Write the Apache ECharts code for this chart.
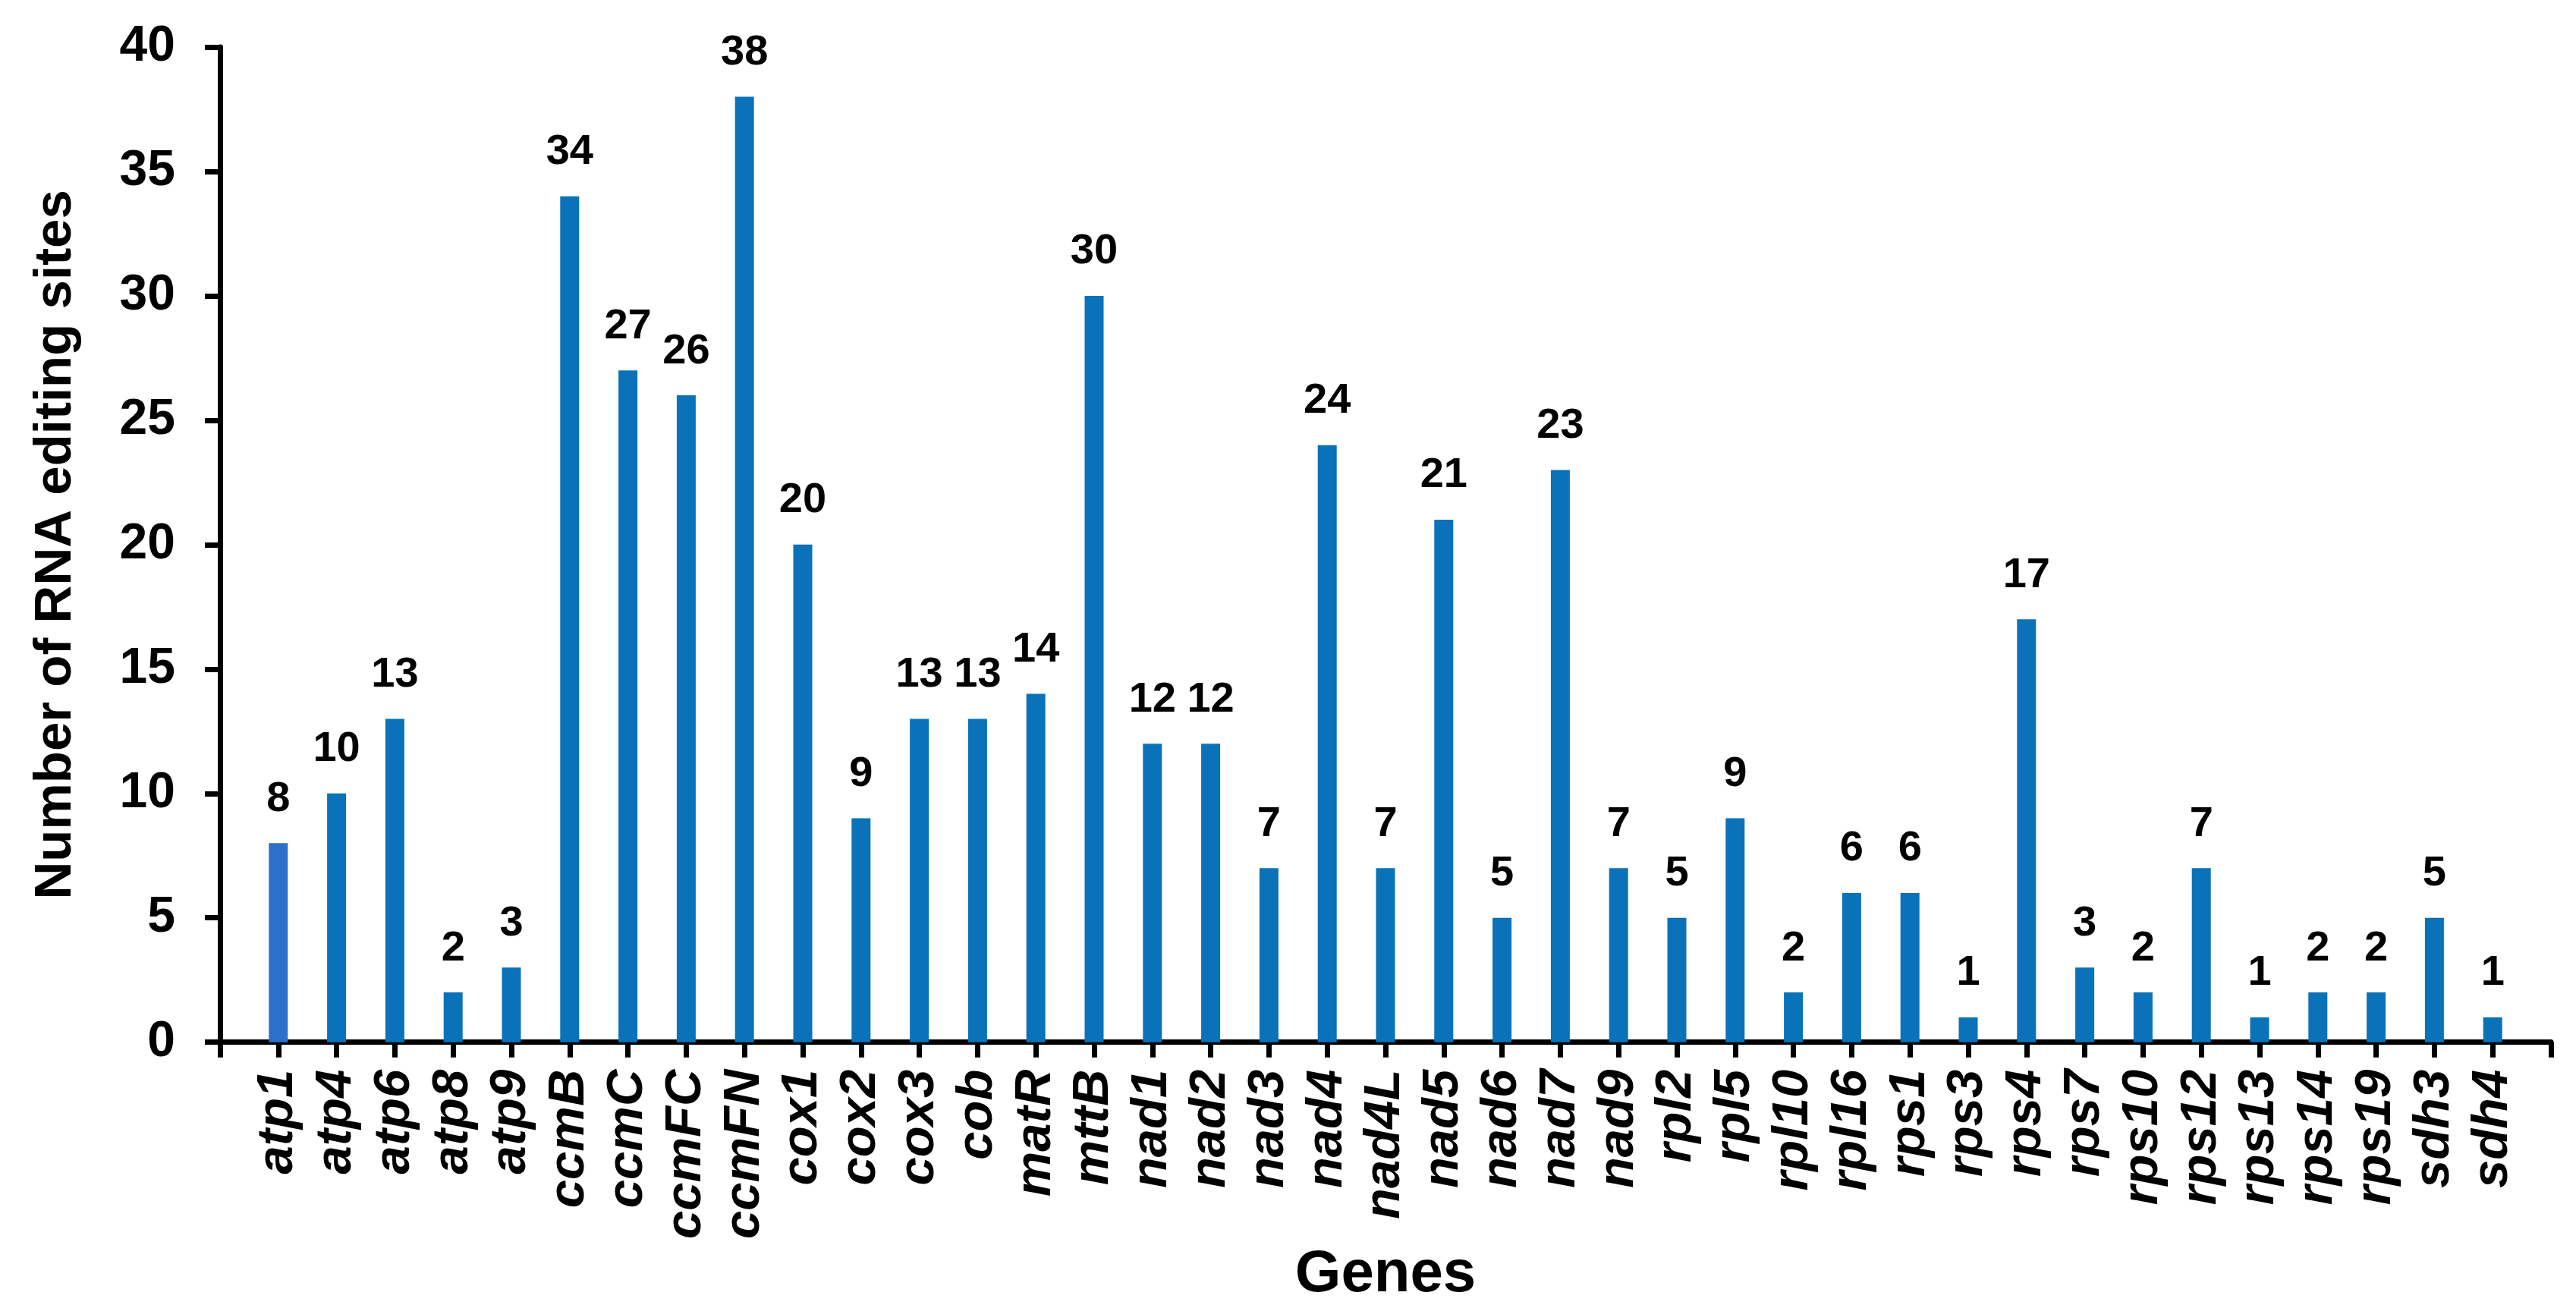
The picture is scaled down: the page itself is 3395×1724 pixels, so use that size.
<!DOCTYPE html>
<html>
<head>
<meta charset="utf-8">
<script src="https://cdn.jsdelivr.net/npm/echarts@6/dist/echarts.min.js"></script>
<style>
html,body{margin:0;padding:0;background:#fff;}
#chart{width:3395px;height:1724px;}
</style>
</head>
<body>
<div id="chart"></div>
<script>
const genes = ['atp1','atp4','atp6','atp8','atp9','ccmB','ccmC','ccmFC','ccmFN','cox1','cox2','cox3','cob','matR','mttB','nad1','nad2','nad3','nad4','nad4L','nad5','nad6','nad7','nad9','rpl2','rpl5','rpl10','rpl16','rps1','rps3','rps4','rps7','rps10','rps12','rps13','rps14','rps19','sdh3','sdh4'];
const editingSites = [8,10,13,2,3,34,27,26,38,20,9,13,13,14,30,12,12,7,24,7,21,5,23,7,5,9,2,6,6,1,17,3,2,7,1,2,2,5,1];
const yTicks = [0,5,10,15,20,25,30,35,40];

const FONT = "'Liberation Sans', Arial, sans-serif";
const categories = [''].concat(genes, ['']);
const barData = ['-'].concat(editingSites.map((v, i) => ({
  value: v,
  itemStyle: { color: i === 0 ? '#2C70CC' : '#0A72B9' }
})), ['-']);

const chart = echarts.init(document.getElementById('chart'));
chart.setOption({
  animation: false,
  backgroundColor: '#ffffff',
  grid: { left: 290, right: 33, top: 62, bottom: 343, containLabel: false },
  xAxis: {
    type: 'category',
    data: categories,
    boundaryGap: false,
    name: 'Genes',
    nameLocation: 'middle',
    nameGap: 246,
    nameTextStyle: { fontFamily: FONT, fontWeight: 'bold', fontSize: 78, color: '#000' },
    axisLine: { lineStyle: { color: '#000', width: 7 } },
    axisTick: { show: true, length: 20, interval: 0, lineStyle: { color: '#000', width: 7 } },
    axisLabel: {
      interval: 0, rotate: 90, margin: 36,
      fontFamily: FONT, fontWeight: 'bold', fontStyle: 'italic', fontSize: 67, color: '#000'
    },
    splitLine: { show: false }
  },
  yAxis: {
    type: 'value',
    min: yTicks[0], max: yTicks[yTicks.length - 1], interval: 5,
    name: 'Number of RNA editing sites',
    nameLocation: 'middle',
    nameGap: 182,
    nameTextStyle: { fontFamily: FONT, fontWeight: 'bold', fontSize: 69, color: '#000' },
    axisLine: { show: true, lineStyle: { color: '#000', width: 7 } },
    axisTick: { show: true, length: 20, lineStyle: { color: '#000', width: 7 } },
    axisLabel: { margin: 59, fontFamily: FONT, fontWeight: 'bold', fontSize: 66, color: '#000' },
    splitLine: { show: false }
  },
  series: [{
    type: 'bar',
    data: barData,
    barWidth: 25,
    label: {
      show: true, position: 'top', distance: 30,
      fontFamily: FONT, fontWeight: 'bold', fontSize: 56, color: '#000'
    }
  }]
});
</script>
</body>
</html>
